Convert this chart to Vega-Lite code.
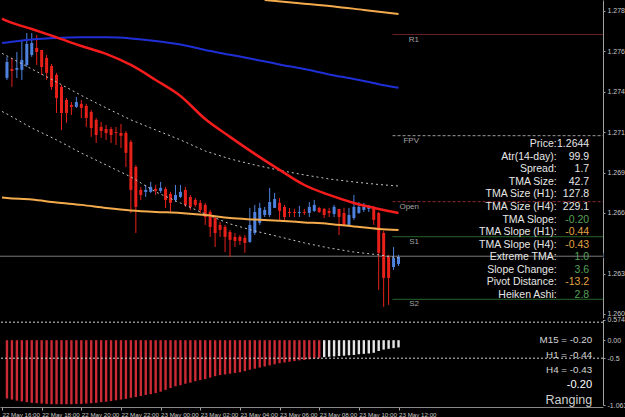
{
"$schema": "https://vega.github.io/schema/vega-lite/v6.json",
"width": 603, "height": 407,
"autosize": {"type": "none"},
"padding": {"left": 0, "top": 0, "right": 22, "bottom": 10},
"background": "#000000",
"config": {"view": {"stroke": null}, "font": "Liberation Sans", "axis": {"labelFont": "Liberation Sans", "grid": false}},
"datasets": {
"candles": [
{"t":"2013-05-22T16:15","o":1.27497,"h":1.27622,"l":1.27485,"c":1.27592},
{"t":"2013-05-22T16:30","o":1.27550,"h":1.27616,"l":1.27444,"c":1.27539},
{"t":"2013-05-22T16:45","o":1.27545,"h":1.27651,"l":1.27497,"c":1.27556},
{"t":"2013-05-22T17:00","o":1.27545,"h":1.27717,"l":1.27485,"c":1.27604},
{"t":"2013-05-22T17:15","o":1.27574,"h":1.27764,"l":1.27562,"c":1.27699},
{"t":"2013-05-22T17:30","o":1.27634,"h":1.27764,"l":1.27622,"c":1.27705},
{"t":"2013-05-22T17:45","o":1.27675,"h":1.27752,"l":1.27574,"c":1.27651},
{"t":"2013-05-22T18:00","o":1.27663,"h":1.27663,"l":1.27515,"c":1.27562},
{"t":"2013-05-22T18:15","o":1.27616,"h":1.27634,"l":1.27485,"c":1.27527},
{"t":"2013-05-22T18:30","o":1.27568,"h":1.27580,"l":1.27426,"c":1.27444},
{"t":"2013-05-22T18:45","o":1.27515,"h":1.27527,"l":1.27289,"c":1.27378},
{"t":"2013-05-22T19:00","o":1.27444,"h":1.27455,"l":1.27188,"c":1.27289},
{"t":"2013-05-22T19:15","o":1.27366,"h":1.27378,"l":1.27230,"c":1.27289},
{"t":"2013-05-22T19:30","o":1.27337,"h":1.27354,"l":1.27277,"c":1.27325},
{"t":"2013-05-22T19:45","o":1.27325,"h":1.27384,"l":1.27319,"c":1.27354},
{"t":"2013-05-22T20:00","o":1.27343,"h":1.27366,"l":1.27259,"c":1.27319},
{"t":"2013-05-22T20:15","o":1.27331,"h":1.27343,"l":1.27206,"c":1.27259},
{"t":"2013-05-22T20:30","o":1.27295,"h":1.27307,"l":1.27147,"c":1.27200},
{"t":"2013-05-22T20:45","o":1.27248,"h":1.27259,"l":1.27111,"c":1.27158},
{"t":"2013-05-22T21:00","o":1.27206,"h":1.27236,"l":1.27141,"c":1.27182},
{"t":"2013-05-22T21:15","o":1.27194,"h":1.27218,"l":1.27129,"c":1.27170},
{"t":"2013-05-22T21:30","o":1.27194,"h":1.27206,"l":1.27111,"c":1.27158},
{"t":"2013-05-22T21:45","o":1.27176,"h":1.27206,"l":1.27099,"c":1.27170},
{"t":"2013-05-22T22:00","o":1.27170,"h":1.27224,"l":1.27081,"c":1.27153},
{"t":"2013-05-22T22:15","o":1.27170,"h":1.27182,"l":1.26968,"c":1.27052},
{"t":"2013-05-22T22:30","o":1.27117,"h":1.27129,"l":1.26695,"c":1.26832},
{"t":"2013-05-22T22:45","o":1.26968,"h":1.26980,"l":1.26576,"c":1.26731},
{"t":"2013-05-22T23:00","o":1.26832,"h":1.26850,"l":1.26772,"c":1.26802},
{"t":"2013-05-22T23:15","o":1.26820,"h":1.26861,"l":1.26790,"c":1.26832},
{"t":"2013-05-22T23:30","o":1.26820,"h":1.26879,"l":1.26814,"c":1.26850},
{"t":"2013-05-22T23:45","o":1.26838,"h":1.26861,"l":1.26802,"c":1.26826},
{"t":"2013-05-23T00:00","o":1.26826,"h":1.26879,"l":1.26814,"c":1.26844},
{"t":"2013-05-23T00:15","o":1.26838,"h":1.26850,"l":1.26725,"c":1.26772},
{"t":"2013-05-23T00:30","o":1.26808,"h":1.26820,"l":1.26701,"c":1.26755},
{"t":"2013-05-23T00:45","o":1.26772,"h":1.26861,"l":1.26760,"c":1.26802},
{"t":"2013-05-23T01:00","o":1.26790,"h":1.26861,"l":1.26784,"c":1.26820},
{"t":"2013-05-23T01:15","o":1.26832,"h":1.26850,"l":1.26731,"c":1.26743},
{"t":"2013-05-23T01:30","o":1.26790,"h":1.26802,"l":1.26713,"c":1.26731},
{"t":"2013-05-23T01:45","o":1.26772,"h":1.26784,"l":1.26731,"c":1.26743},
{"t":"2013-05-23T02:00","o":1.26755,"h":1.26772,"l":1.26695,"c":1.26713},
{"t":"2013-05-23T02:15","o":1.26743,"h":1.26755,"l":1.26624,"c":1.26671},
{"t":"2013-05-23T02:30","o":1.26701,"h":1.26713,"l":1.26553,"c":1.26612},
{"t":"2013-05-23T02:45","o":1.26665,"h":1.26677,"l":1.26493,"c":1.26576},
{"t":"2013-05-23T03:00","o":1.26624,"h":1.26642,"l":1.26553,"c":1.26594},
{"t":"2013-05-23T03:15","o":1.26612,"h":1.26624,"l":1.26463,"c":1.26553},
{"t":"2013-05-23T03:30","o":1.26582,"h":1.26594,"l":1.26434,"c":1.26535},
{"t":"2013-05-23T03:45","o":1.26553,"h":1.26576,"l":1.26493,"c":1.26529},
{"t":"2013-05-23T04:00","o":1.26553,"h":1.26564,"l":1.26505,"c":1.26529},
{"t":"2013-05-23T04:15","o":1.26547,"h":1.26564,"l":1.26458,"c":1.26517},
{"t":"2013-05-23T04:30","o":1.26523,"h":1.26725,"l":1.26517,"c":1.26624},
{"t":"2013-05-23T04:45","o":1.26576,"h":1.26743,"l":1.26564,"c":1.26701},
{"t":"2013-05-23T05:00","o":1.26636,"h":1.26755,"l":1.26624,"c":1.26725},
{"t":"2013-05-23T05:15","o":1.26683,"h":1.26731,"l":1.26671,"c":1.26713},
{"t":"2013-05-23T05:30","o":1.26683,"h":1.26844,"l":1.26671,"c":1.26760},
{"t":"2013-05-23T05:45","o":1.26725,"h":1.26814,"l":1.26725,"c":1.26778},
{"t":"2013-05-23T06:00","o":1.26755,"h":1.26784,"l":1.26654,"c":1.26707},
{"t":"2013-05-23T06:15","o":1.26731,"h":1.26743,"l":1.26654,"c":1.26671},
{"t":"2013-05-23T06:30","o":1.26701,"h":1.26725,"l":1.26671,"c":1.26695},
{"t":"2013-05-23T06:45","o":1.26701,"h":1.26719,"l":1.26671,"c":1.26695},
{"t":"2013-05-23T07:00","o":1.26695,"h":1.26737,"l":1.26671,"c":1.26701},
{"t":"2013-05-23T07:15","o":1.26701,"h":1.26719,"l":1.26683,"c":1.26695},
{"t":"2013-05-23T07:30","o":1.26695,"h":1.26760,"l":1.26671,"c":1.26731},
{"t":"2013-05-23T07:45","o":1.26707,"h":1.26772,"l":1.26701,"c":1.26743},
{"t":"2013-05-23T08:00","o":1.26725,"h":1.26731,"l":1.26695,"c":1.26701},
{"t":"2013-05-23T08:15","o":1.26719,"h":1.26725,"l":1.26665,"c":1.26683},
{"t":"2013-05-23T08:30","o":1.26707,"h":1.26725,"l":1.26671,"c":1.26695},
{"t":"2013-05-23T08:45","o":1.26689,"h":1.26743,"l":1.26671,"c":1.26731},
{"t":"2013-05-23T09:00","o":1.26719,"h":1.26719,"l":1.26564,"c":1.26671},
{"t":"2013-05-23T09:15","o":1.26695,"h":1.26725,"l":1.26618,"c":1.26624},
{"t":"2013-05-23T09:30","o":1.26624,"h":1.26725,"l":1.26618,"c":1.26683},
{"t":"2013-05-23T09:45","o":1.26665,"h":1.26802,"l":1.26654,"c":1.26731},
{"t":"2013-05-23T10:00","o":1.26695,"h":1.26760,"l":1.26689,"c":1.26731},
{"t":"2013-05-23T10:15","o":1.26713,"h":1.26755,"l":1.26701,"c":1.26731},
{"t":"2013-05-23T10:30","o":1.26719,"h":1.26743,"l":1.26701,"c":1.26731},
{"t":"2013-05-23T10:45","o":1.26731,"h":1.26737,"l":1.26624,"c":1.26654},
{"t":"2013-05-23T11:00","o":1.26695,"h":1.26701,"l":1.26238,"c":1.26458},
{"t":"2013-05-23T11:15","o":1.26576,"h":1.26588,"l":1.26137,"c":1.26309},
{"t":"2013-05-23T11:30","o":1.26434,"h":1.26446,"l":1.26149,"c":1.26309},
{"t":"2013-05-23T11:45","o":1.26374,"h":1.26493,"l":1.26356,"c":1.26428},
{"t":"2013-05-23T12:00","o":1.26392,"h":1.26446,"l":1.26380,"c":1.26434}
],
"hist": [
{"t":"2013-05-22T16:15","v":-1.62},{"t":"2013-05-22T16:30","v":-1.65},{"t":"2013-05-22T16:45","v":-1.68},{"t":"2013-05-22T17:00","v":-1.70},
{"t":"2013-05-22T17:15","v":-1.72},{"t":"2013-05-22T17:30","v":-1.74},{"t":"2013-05-22T17:45","v":-1.75},{"t":"2013-05-22T18:00","v":-1.76},
{"t":"2013-05-22T18:15","v":-1.77},{"t":"2013-05-22T18:30","v":-1.78},{"t":"2013-05-22T18:45","v":-1.78},{"t":"2013-05-22T19:00","v":-1.78},
{"t":"2013-05-22T19:15","v":-1.78},{"t":"2013-05-22T19:30","v":-1.78},{"t":"2013-05-22T19:45","v":-1.77},{"t":"2013-05-22T20:00","v":-1.77},
{"t":"2013-05-22T20:15","v":-1.76},{"t":"2013-05-22T20:30","v":-1.75},{"t":"2013-05-22T20:45","v":-1.74},{"t":"2013-05-22T21:00","v":-1.72},
{"t":"2013-05-22T21:15","v":-1.71},{"t":"2013-05-22T21:30","v":-1.69},{"t":"2013-05-22T21:45","v":-1.67},{"t":"2013-05-22T22:00","v":-1.65},
{"t":"2013-05-22T22:15","v":-1.63},{"t":"2013-05-22T22:30","v":-1.60},{"t":"2013-05-22T22:45","v":-1.58},{"t":"2013-05-22T23:00","v":-1.55},
{"t":"2013-05-22T23:15","v":-1.52},{"t":"2013-05-22T23:30","v":-1.50},{"t":"2013-05-22T23:45","v":-1.47},{"t":"2013-05-23T00:00","v":-1.43},
{"t":"2013-05-23T00:15","v":-1.38},{"t":"2013-05-23T00:30","v":-1.33},{"t":"2013-05-23T00:45","v":-1.28},{"t":"2013-05-23T01:00","v":-1.25},
{"t":"2013-05-23T01:15","v":-1.21},{"t":"2013-05-23T01:30","v":-1.18},{"t":"2013-05-23T01:45","v":-1.14},{"t":"2013-05-23T02:00","v":-1.11},
{"t":"2013-05-23T02:15","v":-1.08},{"t":"2013-05-23T02:30","v":-1.04},{"t":"2013-05-23T02:45","v":-1.00},{"t":"2013-05-23T03:00","v":-0.97},
{"t":"2013-05-23T03:15","v":-0.95},{"t":"2013-05-23T03:30","v":-0.93},{"t":"2013-05-23T03:45","v":-0.91},{"t":"2013-05-23T04:00","v":-0.89},
{"t":"2013-05-23T04:15","v":-0.86},{"t":"2013-05-23T04:30","v":-0.82},{"t":"2013-05-23T04:45","v":-0.79},{"t":"2013-05-23T05:00","v":-0.76},
{"t":"2013-05-23T05:15","v":-0.73},{"t":"2013-05-23T05:30","v":-0.70},{"t":"2013-05-23T05:45","v":-0.67},{"t":"2013-05-23T06:00","v":-0.64},
{"t":"2013-05-23T06:15","v":-0.62},{"t":"2013-05-23T06:30","v":-0.60},{"t":"2013-05-23T06:45","v":-0.58},{"t":"2013-05-23T07:00","v":-0.56},
{"t":"2013-05-23T07:15","v":-0.55},{"t":"2013-05-23T07:30","v":-0.53},{"t":"2013-05-23T07:45","v":-0.51},{"t":"2013-05-23T08:00","v":-0.50},
{"t":"2013-05-23T08:15","v":-0.47},{"t":"2013-05-23T08:30","v":-0.46},{"t":"2013-05-23T08:45","v":-0.45},{"t":"2013-05-23T09:00","v":-0.44},
{"t":"2013-05-23T09:15","v":-0.43},{"t":"2013-05-23T09:30","v":-0.42},{"t":"2013-05-23T09:45","v":-0.41},{"t":"2013-05-23T10:00","v":-0.39},
{"t":"2013-05-23T10:15","v":-0.38},{"t":"2013-05-23T10:30","v":-0.37},{"t":"2013-05-23T10:45","v":-0.35},{"t":"2013-05-23T11:00","v":-0.30},
{"t":"2013-05-23T11:15","v":-0.26},{"t":"2013-05-23T11:30","v":-0.24},{"t":"2013-05-23T11:45","v":-0.22},{"t":"2013-05-23T12:00","v":-0.20}
],
"lines": [
{"t":"2013-05-22T16:00","s":"red","p":1.27850},{"t":"2013-05-22T16:15","s":"red","p":1.27836},{"t":"2013-05-22T17:30","s":"red","p":1.27788},{"t":"2013-05-22T18:45","s":"red","p":1.27738},{"t":"2013-05-22T20:00","s":"red","p":1.27687},{"t":"2013-05-22T21:15","s":"red","p":1.27640},{"t":"2013-05-22T22:30","s":"red","p":1.27574},{"t":"2013-05-22T23:45","s":"red","p":1.27485},{"t":"2013-05-23T01:00","s":"red","p":1.27390},{"t":"2013-05-23T02:15","s":"red","p":1.27253},{"t":"2013-05-23T03:30","s":"red","p":1.27147},{"t":"2013-05-23T04:45","s":"red","p":1.27046},{"t":"2013-05-23T06:00","s":"red","p":1.26951},{"t":"2013-05-23T07:15","s":"red","p":1.26861},{"t":"2013-05-23T08:30","s":"red","p":1.26802},{"t":"2013-05-23T09:45","s":"red","p":1.26754},{"t":"2013-05-23T11:00","s":"red","p":1.26719},{"t":"2013-05-23T12:00","s":"red","p":1.26695},
{"t":"2013-05-22T16:00","s":"blue","p":1.27705},{"t":"2013-05-22T16:15","s":"blue","p":1.27708},{"t":"2013-05-22T17:30","s":"blue","p":1.27726},{"t":"2013-05-22T18:45","s":"blue","p":1.27735},{"t":"2013-05-22T20:00","s":"blue","p":1.27738},{"t":"2013-05-22T21:15","s":"blue","p":1.27738},{"t":"2013-05-22T22:30","s":"blue","p":1.27732},{"t":"2013-05-22T23:45","s":"blue","p":1.27717},{"t":"2013-05-23T01:00","s":"blue","p":1.27696},{"t":"2013-05-23T02:15","s":"blue","p":1.27663},{"t":"2013-05-23T03:30","s":"blue","p":1.27635},{"t":"2013-05-23T04:45","s":"blue","p":1.27607},{"t":"2013-05-23T06:00","s":"blue","p":1.27577},{"t":"2013-05-23T07:15","s":"blue","p":1.27550},{"t":"2013-05-23T08:30","s":"blue","p":1.27518},{"t":"2013-05-23T09:45","s":"blue","p":1.27491},{"t":"2013-05-23T11:00","s":"blue","p":1.27460},{"t":"2013-05-23T12:00","s":"blue","p":1.27438},
{"t":"2013-05-23T05:15","s":"otop","p":1.27960},{"t":"2013-05-23T07:00","s":"otop","p":1.27941},{"t":"2013-05-23T08:45","s":"otop","p":1.27922},{"t":"2013-05-23T10:15","s":"otop","p":1.27901},{"t":"2013-05-23T12:00","s":"otop","p":1.27877},
{"t":"2013-05-22T16:00","s":"olow","p":1.26787},{"t":"2013-05-22T16:15","s":"olow","p":1.26784},{"t":"2013-05-22T17:30","s":"olow","p":1.26775},{"t":"2013-05-22T18:45","s":"olow","p":1.26757},{"t":"2013-05-22T20:00","s":"olow","p":1.26743},{"t":"2013-05-22T21:15","s":"olow","p":1.26725},{"t":"2013-05-22T22:30","s":"olow","p":1.26710},{"t":"2013-05-22T23:45","s":"olow","p":1.26701},{"t":"2013-05-23T01:00","s":"olow","p":1.26695},{"t":"2013-05-23T02:15","s":"olow","p":1.26683},{"t":"2013-05-23T03:30","s":"olow","p":1.26665},{"t":"2013-05-23T04:45","s":"olow","p":1.26656},{"t":"2013-05-23T06:00","s":"olow","p":1.26648},{"t":"2013-05-23T07:15","s":"olow","p":1.26639},{"t":"2013-05-23T08:30","s":"olow","p":1.26630},{"t":"2013-05-23T09:45","s":"olow","p":1.26615},{"t":"2013-05-23T11:00","s":"olow","p":1.26600},{"t":"2013-05-23T12:00","s":"olow","p":1.26594},
{"t":"2013-05-22T16:00","s":"up","p":1.27643},{"t":"2013-05-22T16:15","s":"up","p":1.27628},{"t":"2013-05-22T17:30","s":"up","p":1.27550},{"t":"2013-05-22T18:45","s":"up","p":1.27473},{"t":"2013-05-22T20:00","s":"up","p":1.27393},{"t":"2013-05-22T21:15","s":"up","p":1.27319},{"t":"2013-05-22T22:30","s":"up","p":1.27248},{"t":"2013-05-22T23:45","s":"up","p":1.27188},{"t":"2013-05-23T01:00","s":"up","p":1.27129},{"t":"2013-05-23T02:15","s":"up","p":1.27063},{"t":"2013-05-23T03:30","s":"up","p":1.27016},{"t":"2013-05-23T04:45","s":"up","p":1.26980},{"t":"2013-05-23T06:00","s":"up","p":1.26948},{"t":"2013-05-23T07:15","s":"up","p":1.26921},{"t":"2013-05-23T08:30","s":"up","p":1.26897},{"t":"2013-05-23T09:45","s":"up","p":1.26879},{"t":"2013-05-23T11:00","s":"up","p":1.26864},{"t":"2013-05-23T12:00","s":"up","p":1.26855},
{"t":"2013-05-22T16:00","s":"dn","p":1.27298},{"t":"2013-05-22T16:15","s":"dn","p":1.27283},{"t":"2013-05-22T17:30","s":"dn","p":1.27200},{"t":"2013-05-22T18:45","s":"dn","p":1.27129},{"t":"2013-05-22T20:00","s":"dn","p":1.27051},{"t":"2013-05-22T21:15","s":"dn","p":1.26980},{"t":"2013-05-22T22:30","s":"dn","p":1.26909},{"t":"2013-05-22T23:45","s":"dn","p":1.26820},{"t":"2013-05-23T01:00","s":"dn","p":1.26754},{"t":"2013-05-23T02:15","s":"dn","p":1.26689},{"t":"2013-05-23T03:30","s":"dn","p":1.26630},{"t":"2013-05-23T04:45","s":"dn","p":1.26588},{"t":"2013-05-23T06:00","s":"dn","p":1.26553},{"t":"2013-05-23T07:15","s":"dn","p":1.26517},{"t":"2013-05-23T08:30","s":"dn","p":1.26487},{"t":"2013-05-23T09:45","s":"dn","p":1.26463},{"t":"2013-05-23T11:00","s":"dn","p":1.26446},{"t":"2013-05-23T12:00","s":"dn","p":1.26428}
],
"pivots": [
{"name":"R1","p":1.27755,"t0":"2013-05-23T11:42","t1":"2013-05-23T23:00"},
{"name":"FPV","p":1.27154,"t0":"2013-05-23T11:42","t1":"2013-05-23T23:00"},
{"name":"Open","p":1.26762,"t0":"2013-05-23T11:42","t1":"2013-05-23T23:00"},
{"name":"S1","p":1.26554,"t0":"2013-05-23T11:42","t1":"2013-05-23T23:00"},
{"name":"S2","p":1.26182,"t0":"2013-05-23T11:42","t1":"2013-05-23T23:00"}
],
"quote": [{"p":1.26438}],
"panel": [
{"k":"Price:","v":"1.2644","state":"info"},
{"k":"Atr(14-day):","v":"99.9","state":"info"},
{"k":"Spread:","v":"1.7","state":"info"},
{"k":"TMA Size:","v":"42.7","state":"info"},
{"k":"TMA Size (H1):","v":"127.8","state":"info"},
{"k":"TMA Size (H4):","v":"229.1","state":"info"},
{"k":"TMA Slope:","v":"-0.20","state":"ok"},
{"k":"TMA Slope (H1):","v":"-0.44","state":"warn"},
{"k":"TMA Slope (H4):","v":"-0.43","state":"warn"},
{"k":"Extreme TMA:","v":"1.0","state":"ok"},
{"k":"Slope Change:","v":"3.6","state":"ok"},
{"k":"Pivot Distance:","v":"-13.2","state":"warn"},
{"k":"Heiken Ashi:","v":"2.8","state":"ok"}
],
"sub": [
{"line":"M15 = -0.20","role":"tf"},
{"line":"H1 = -0.44","role":"tf"},
{"line":"H4 = -0.43","role":"tf"},
{"line":"-0.20","role":"value"},
{"line":"Ranging","role":"state"}
]
},
"resolve": {"scale": {"y": "independent", "color": "independent", "size": "independent", "strokeDash": "independent"}, "axis": {"y": "independent"}, "legend": {"color": "independent", "size": "independent", "strokeDash": "independent"}},
"layer": [
{
"layer": [
{"mark": {"type": "rule", "color": "#8a8a8a", "strokeDash": [1, 2], "strokeWidth": 1},
 "encoding": {"x": {"datum": {"year": 2013, "month": 5, "date": 23, "hours": 2, "minutes": 0}, "type": "temporal", "scale": {"domain": [{"year":2013,"month":5,"date":22,"hours":16,"minutes":9,"seconds":3},{"year":2013,"month":5,"date":23,"hours":22,"minutes":3,"seconds":41}]}}}},
{"mark": {"type": "rule", "color": "#55649a", "strokeDash": [2, 2], "strokeWidth": 1},
 "encoding": {"y": {"datum": 1.2657, "type": "quantitative", "scale": {"domain": [1.26071, 1.2796], "range": [318, 0], "zero": false, "nice": false}}}},
{"data": {"name": "quote"}, "mark": {"type": "rule", "color": "#7c7c7c", "strokeWidth": 1},
 "encoding": {"y": {"field": "p", "type": "quantitative", "title": null, "scale": {"domain": [1.26071, 1.2796], "range": [318, 0], "zero": false, "nice": false}}}},
{"data": {"name": "pivots"}, "mark": {"type": "rule", "clip": true},
 "encoding": {
  "x": {"field": "t0", "type": "temporal", "title": null, "scale": {"domain": [{"year":2013,"month":5,"date":22,"hours":16,"minutes":9,"seconds":3},{"year":2013,"month":5,"date":23,"hours":22,"minutes":3,"seconds":41}]}},
  "x2": {"field": "t1"},
  "y": {"field": "p", "type": "quantitative", "title": null, "scale": {"domain": [1.26071, 1.2796], "range": [318, 0], "zero": false, "nice": false}},
  "color": {"field": "name", "type": "nominal", "scale": {"domain": ["R1","FPV","Open","S1","S2"], "range": ["#8a2a2a","#9a9a9a","#8e2c2c","#2f7a33","#2f7a33"]}, "legend": null},
  "strokeDash": {"field": "name", "type": "nominal", "scale": {"domain": ["R1","FPV","Open","S1","S2"], "range": [[1,0],[3,2],[3,2],[1,0],[1,0]]}, "legend": null}
 }},
{"data": {"name": "candles"}, "mark": {"type": "rule", "strokeWidth": 1},
 "encoding": {
  "x": {"field": "t", "type": "temporal", "scale": {"domain": [{"year":2013,"month":5,"date":22,"hours":16,"minutes":9,"seconds":3},{"year":2013,"month":5,"date":23,"hours":22,"minutes":3,"seconds":41}]},
   "axis": {"title": null, "values": [
     {"year":2013,"month":5,"date":22,"hours":16},{"year":2013,"month":5,"date":22,"hours":18},{"year":2013,"month":5,"date":22,"hours":20},{"year":2013,"month":5,"date":22,"hours":22},
     {"year":2013,"month":5,"date":23,"hours":0},{"year":2013,"month":5,"date":23,"hours":2},{"year":2013,"month":5,"date":23,"hours":4},{"year":2013,"month":5,"date":23,"hours":6},
     {"year":2013,"month":5,"date":23,"hours":8},{"year":2013,"month":5,"date":23,"hours":10},{"year":2013,"month":5,"date":23,"hours":12}],
    "format": "%d %b %H:%M", "labelAlign": "left", "labelBaseline": "top", "labelFontSize": 6.2, "labelColor": "#c8c8c8", "tickColor": "#a0a0a0", "tickSize": 3, "domainColor": "#8a8a8a", "labelPadding": 1, "grid": false, "labelFlush": false, "labelOverlap": false, "labelBound": false}},
  "y": {"field": "l", "type": "quantitative", "scale": {"domain": [1.26071, 1.2796], "range": [318, 0], "zero": false, "nice": false},
   "axis": {"orient": "right", "title": null, "values": [1.27895,1.27775,1.27655,1.27535,1.27415,1.27295,1.27175,1.27055,1.26935,1.26815,1.26695,1.26575,1.26335,1.26215,1.26095],
    "format": ".5f", "labelFontSize": 7, "labelColor": "#c8c8c8", "tickSize": 2, "tickColor": "#a0a0a0", "domainColor": "#a0a0a0", "labelPadding": 2, "grid": false, "labelOverlap": false, "labelFlush": false, "labelBound": false}},
  "y2": {"field": "h"},
  "color": {"condition": {"test": "datum.c >= datum.o", "value": "#4f82de"}, "value": "#e8201a"}
 }},
{"data": {"name": "candles"}, "mark": {"type": "bar", "size": 3},
 "encoding": {
  "x": {"field": "t", "type": "temporal", "title": null, "scale": {"domain": [{"year":2013,"month":5,"date":22,"hours":16,"minutes":9,"seconds":3},{"year":2013,"month":5,"date":23,"hours":22,"minutes":3,"seconds":41}]}},
  "y": {"field": "o", "type": "quantitative", "title": null, "scale": {"domain": [1.26071, 1.2796], "range": [318, 0], "zero": false, "nice": false}},
  "y2": {"field": "c"},
  "color": {"condition": {"test": "datum.c >= datum.o", "value": "#4f82de"}, "value": "#e8201a"}
 }},
{"data": {"name": "lines"}, "transform": [{"filter": "datum.s == 'up' || datum.s == 'dn'"}],
 "mark": {"type": "line", "clip": true, "strokeDash": [2, 3], "strokeWidth": 1, "color": "#c4c4c4"},
 "encoding": {
  "x": {"field": "t", "type": "temporal", "title": null, "scale": {"domain": [{"year":2013,"month":5,"date":22,"hours":16,"minutes":9,"seconds":3},{"year":2013,"month":5,"date":23,"hours":22,"minutes":3,"seconds":41}]}},
  "y": {"field": "p", "type": "quantitative", "title": null, "scale": {"domain": [1.26071, 1.2796], "range": [318, 0], "zero": false, "nice": false}},
  "detail": {"field": "s"}
 }},
{"data": {"name": "lines"}, "transform": [{"filter": "datum.s == 'olow' || datum.s == 'otop'"}],
 "mark": {"type": "line", "clip": true, "strokeWidth": 2, "color": "#f4ab4c", "interpolate": "monotone"},
 "encoding": {
  "x": {"field": "t", "type": "temporal", "title": null, "scale": {"domain": [{"year":2013,"month":5,"date":22,"hours":16,"minutes":9,"seconds":3},{"year":2013,"month":5,"date":23,"hours":22,"minutes":3,"seconds":41}]}},
  "y": {"field": "p", "type": "quantitative", "title": null, "scale": {"domain": [1.26071, 1.2796], "range": [318, 0], "zero": false, "nice": false}},
  "detail": {"field": "s"}
 }},
{"data": {"name": "lines"}, "transform": [{"filter": "datum.s == 'blue'"}],
 "mark": {"type": "line", "clip": true, "strokeWidth": 2, "color": "#1f2fd6", "interpolate": "monotone"},
 "encoding": {
  "x": {"field": "t", "type": "temporal", "title": null, "scale": {"domain": [{"year":2013,"month":5,"date":22,"hours":16,"minutes":9,"seconds":3},{"year":2013,"month":5,"date":23,"hours":22,"minutes":3,"seconds":41}]}},
  "y": {"field": "p", "type": "quantitative", "title": null, "scale": {"domain": [1.26071, 1.2796], "range": [318, 0], "zero": false, "nice": false}}
 }},
{"data": {"name": "lines"}, "transform": [{"filter": "datum.s == 'red'"}],
 "mark": {"type": "line", "clip": true, "strokeWidth": 2.5, "color": "#f41c1c", "interpolate": "monotone"},
 "encoding": {
  "x": {"field": "t", "type": "temporal", "title": null, "scale": {"domain": [{"year":2013,"month":5,"date":22,"hours":16,"minutes":9,"seconds":3},{"year":2013,"month":5,"date":23,"hours":22,"minutes":3,"seconds":41}]}},
  "y": {"field": "p", "type": "quantitative", "title": null, "scale": {"domain": [1.26071, 1.2796], "range": [318, 0], "zero": false, "nice": false}}
 }},
{"data": {"name": "pivots"}, "mark": {"type": "text", "align": "right", "baseline": "top", "dy": 1, "fontSize": 8, "color": "#a4a4a4"},
 "encoding": {
  "x": {"datum": {"year":2013,"month":5,"date":23,"hours":13,"minutes":2,"seconds":2}, "type": "temporal", "scale": {"domain": [{"year":2013,"month":5,"date":22,"hours":16,"minutes":9,"seconds":3},{"year":2013,"month":5,"date":23,"hours":22,"minutes":3,"seconds":41}]}},
  "y": {"field": "p", "type": "quantitative", "title": null, "scale": {"domain": [1.26071, 1.2796], "range": [318, 0], "zero": false, "nice": false}},
  "text": {"field": "name"}
 }},
{"mark": {"type": "rule", "color": "#858585", "strokeWidth": 2.5},
 "encoding": {"y": {"datum": 1.26071, "type": "quantitative", "scale": {"domain": [1.26071, 1.2796], "range": [318, 0], "zero": false, "nice": false}}}},
{"mark": {"type": "rect", "color": "#e4e4e4"},
 "encoding": {
  "x": {"datum": {"year":2013,"month":5,"date":23,"hours":22,"minutes":6,"seconds":40}, "type": "temporal", "scale": {"domain": [{"year":2013,"month":5,"date":22,"hours":16,"minutes":9,"seconds":3},{"year":2013,"month":5,"date":23,"hours":22,"minutes":3,"seconds":41}]}},
  "x2": {"datum": {"year":2013,"month":5,"date":23,"hours":23,"minutes":20}},
  "y": {"datum": 1.26468, "type": "quantitative", "scale": {"domain": [1.26071, 1.2796], "range": [318, 0], "zero": false, "nice": false}},
  "y2": {"datum": 1.26408}
 }},
{"data": {"name": "quote"}, "mark": {"type": "text", "align": "left", "fontSize": 7, "color": "#000000"},
 "encoding": {
  "x": {"datum": {"year":2013,"month":5,"date":23,"hours":22,"minutes":12,"seconds":37}, "type": "temporal", "scale": {"domain": [{"year":2013,"month":5,"date":22,"hours":16,"minutes":9,"seconds":3},{"year":2013,"month":5,"date":23,"hours":22,"minutes":3,"seconds":41}]}},
  "y": {"field": "p", "type": "quantitative", "title": null, "scale": {"domain": [1.26071, 1.2796], "range": [318, 0], "zero": false, "nice": false}},
  "text": {"field": "p", "format": ".5f"}
 }}
]
},
{
"layer": [
{"data": {"name": "hist"}, "mark": {"type": "rule", "strokeWidth": 2.4},
 "encoding": {
  "x": {"field": "t", "type": "temporal", "title": null, "scale": {"domain": [{"year":2013,"month":5,"date":22,"hours":16,"minutes":9,"seconds":3},{"year":2013,"month":5,"date":23,"hours":22,"minutes":3,"seconds":41}]}},
  "y": {"field": "v", "type": "quantitative", "scale": {"domain": [-1.8, 0.57481], "range": [405, 319.5], "zero": false, "nice": false},
   "axis": {"orient": "right", "title": null, "values": [0.57481, 0, -0.5, -1.8],
    "labelExpr": "datum.value < -1 ? '-1.06373' : (datum.value > 0.5 ? '0.57481' : (datum.value == 0 ? '0.00' : '-0.5'))",
    "labelFontSize": 7, "labelColor": "#c8c8c8", "tickSize": 2, "tickColor": "#a0a0a0", "domainColor": "#a0a0a0", "labelPadding": 2, "grid": false, "labelOverlap": false, "labelFlush": false, "labelBound": false}},
  "y2": {"datum": 0},
  "color": {"condition": {"test": "datum.v <= -0.5", "value": "#cc2a35"}, "value": "#e6e6e6"}
 }},
{"data": {"values": [{"lvl": 0.5}, {"lvl": -0.5}]}, "mark": {"type": "rule", "strokeDash": [2, 2], "strokeWidth": 1, "color": "#d4d4d4"},
 "encoding": {"y": {"field": "lvl", "type": "quantitative", "title": null, "scale": {"domain": [-1.8, 0.57481], "range": [405, 319.5], "zero": false, "nice": false}}}}
]
},
{
"data": {"name": "panel"},
"layer": [
{"mark": {"type": "text", "align": "right", "fontSize": 10.5, "color": "#e6e6e6"},
 "encoding": {
  "x": {"datum": {"year":2013,"month":5,"date":23,"hours":19,"minutes":58,"seconds":41}, "type": "temporal", "scale": {"domain": [{"year":2013,"month":5,"date":22,"hours":16,"minutes":9,"seconds":3},{"year":2013,"month":5,"date":23,"hours":22,"minutes":3,"seconds":41}]}},
  "y": {"field": "k", "type": "ordinal", "sort": null, "scale": {"type": "point", "range": [144, 295], "padding": 0}, "axis": null},
  "text": {"field": "k"}
 }},
{"mark": {"type": "text", "align": "right", "fontSize": 10.5},
 "encoding": {
  "x": {"datum": {"year":2013,"month":5,"date":23,"hours":21,"minutes":36,"seconds":55}, "type": "temporal", "scale": {"domain": [{"year":2013,"month":5,"date":22,"hours":16,"minutes":9,"seconds":3},{"year":2013,"month":5,"date":23,"hours":22,"minutes":3,"seconds":41}]}},
  "y": {"field": "k", "type": "ordinal", "sort": null, "scale": {"type": "point", "range": [144, 295], "padding": 0}, "axis": null},
  "text": {"field": "v"},
  "color": {"field": "state", "type": "nominal", "scale": {"domain": ["info", "ok", "warn"], "range": ["#e6e6e6", "#57a05a", "#e2a444"]}, "legend": null}
 }}
]
},
{
"data": {"name": "sub"},
"mark": {"type": "text", "align": "right"},
"encoding": {
  "x": {"datum": {"year":2013,"month":5,"date":23,"hours":21,"minutes":45,"seconds":50}, "type": "temporal", "scale": {"domain": [{"year":2013,"month":5,"date":22,"hours":16,"minutes":9,"seconds":3},{"year":2013,"month":5,"date":23,"hours":22,"minutes":3,"seconds":41}]}},
  "y": {"field": "line", "type": "ordinal", "sort": null, "scale": {"type": "point", "range": [340, 400], "padding": 0}, "axis": null},
  "text": {"field": "line"},
  "size": {"field": "role", "type": "nominal", "scale": {"domain": ["tf", "value", "state"], "range": [9.8, 12.5, 12.6]}, "legend": null},
  "color": {"field": "role", "type": "nominal", "scale": {"domain": ["tf", "value", "state"], "range": ["#d4d4d4", "#ffffff", "#cfcfcf"]}, "legend": null}
}
}
]
}
